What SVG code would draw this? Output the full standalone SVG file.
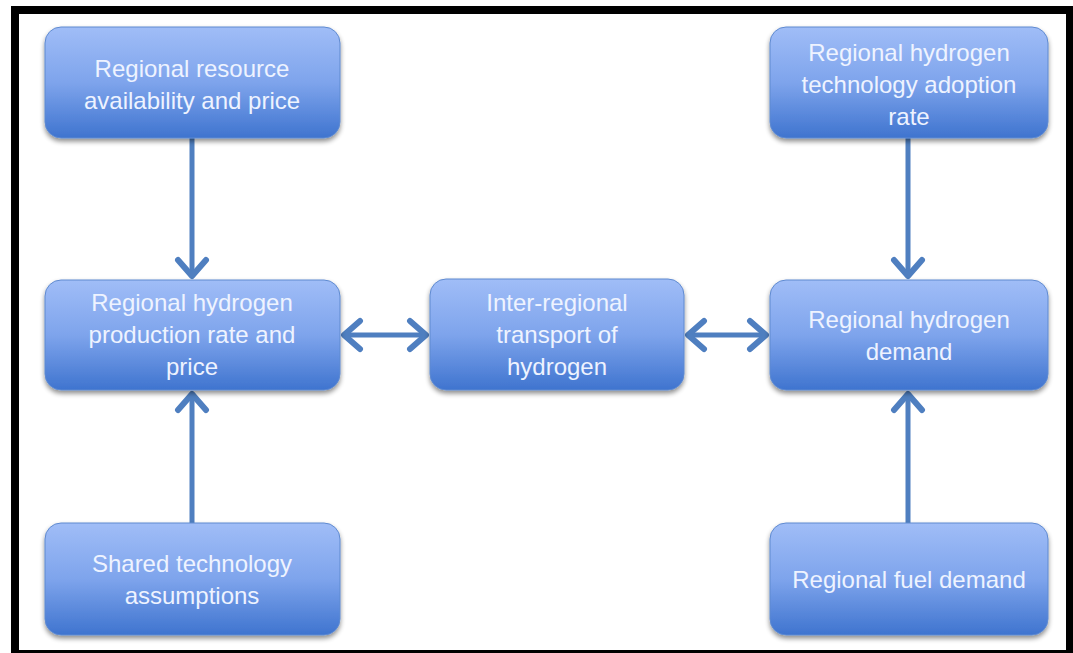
<svg xmlns="http://www.w3.org/2000/svg" width="1073" height="653" viewBox="0 0 1073 653">
  <defs>
    <linearGradient id="g" x1="0" y1="0" x2="0" y2="1">
      <stop offset="0" stop-color="#a0bdf7"/>
      <stop offset="0.5" stop-color="#7ea4ec"/>
      <stop offset="1" stop-color="#3f74cf"/>
    </linearGradient>
    <filter id="sh" x="-10%" y="-10%" width="120%" height="130%">
      <feGaussianBlur in="SourceAlpha" stdDeviation="2.5"/>
      <feOffset dx="0" dy="3" result="b"/>
      <feComponentTransfer><feFuncA type="linear" slope="0.45"/></feComponentTransfer>
      <feMerge><feMergeNode/><feMergeNode in="SourceGraphic"/></feMerge>
    </filter>
    <marker id="ah" viewBox="-22 -18 26 36" refX="0" refY="0" markerWidth="26" markerHeight="36" markerUnits="userSpaceOnUse" orient="auto-start-reverse">
      <polyline points="-16,-14 0,0 -16,14" fill="none" stroke="#4f7fc0" stroke-width="6" stroke-linecap="round" stroke-linejoin="round"/>
    </marker>
  </defs>
  <style>
    .box { fill: url(#g); stroke: #5f8ad0; stroke-width: 1; filter: url(#sh); }
    .t { font-family: "Liberation Sans", Arial, sans-serif; font-size: 24px; fill: #eef3ff; text-anchor: middle; }
    .c { fill: none; stroke: #4f7fc0; stroke-width: 5; }
  </style>
  <rect x="0" y="0" width="1073" height="653" fill="#ffffff"/>
  <path d="M11 6 H1073 V653 H11 Z M19 14 V650 H1066 V14 Z" fill="#000000" fill-rule="evenodd"/>

  <g id="connectors">
    <line class="c" x1="192" y1="138" x2="192" y2="276" marker-end="url(#ah)"/>
    <line class="c" x1="192" y1="523" x2="192" y2="394" marker-end="url(#ah)"/>
    <line class="c" x1="344" y1="335" x2="426" y2="335" marker-start="url(#ah)" marker-end="url(#ah)"/>
    <line class="c" x1="688" y1="335" x2="766" y2="335" marker-start="url(#ah)" marker-end="url(#ah)"/>
    <line class="c" x1="908" y1="138" x2="908" y2="276" marker-end="url(#ah)"/>
    <line class="c" x1="908" y1="523" x2="908" y2="394" marker-end="url(#ah)"/>
  </g>

  <g id="n1">
    <rect class="box" x="45" y="27" width="295" height="111" rx="16"/>
    <text class="t" x="192" y="77">Regional resource</text>
    <text class="t" x="192" y="109">availability and price</text>
  </g>
  <g id="n2">
    <rect class="box" x="45" y="280" width="295" height="110" rx="16"/>
    <text class="t" x="192" y="311">Regional hydrogen</text>
    <text class="t" x="192" y="343">production rate and</text>
    <text class="t" x="192" y="375">price</text>
  </g>
  <g id="n3">
    <rect class="box" x="45" y="523" width="295" height="112" rx="16"/>
    <text class="t" x="192" y="572">Shared technology</text>
    <text class="t" x="192" y="604">assumptions</text>
  </g>
  <g id="n4">
    <rect class="box" x="430" y="279" width="254" height="111" rx="16"/>
    <text class="t" x="557" y="311">Inter-regional</text>
    <text class="t" x="557" y="343">transport of</text>
    <text class="t" x="557" y="375">hydrogen</text>
  </g>
  <g id="n5">
    <rect class="box" x="770" y="27" width="278" height="111" rx="16"/>
    <text class="t" x="909" y="61">Regional hydrogen</text>
    <text class="t" x="909" y="93">technology adoption</text>
    <text class="t" x="909" y="125">rate</text>
  </g>
  <g id="n6">
    <rect class="box" x="770" y="280" width="278" height="110" rx="16"/>
    <text class="t" x="909" y="328">Regional hydrogen</text>
    <text class="t" x="909" y="360">demand</text>
  </g>
  <g id="n7">
    <rect class="box" x="770" y="523" width="278" height="112" rx="16"/>
    <text class="t" x="909" y="588">Regional fuel demand</text>
  </g>
</svg>
